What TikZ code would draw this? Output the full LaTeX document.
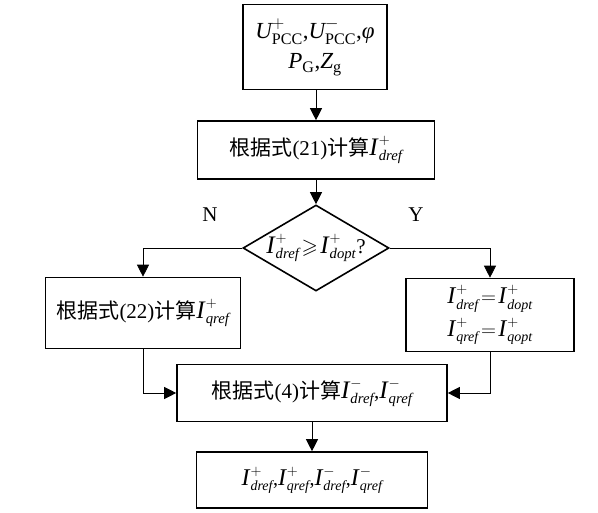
\documentclass[tikz,border=0pt]{standalone}
\usepackage{amsmath}
\usepackage{amssymb}
\usepackage{fontspec}
\setmainfont{Liberation Serif}
\newfontfamily\cjk{Noto Sans CJK SC}
\usetikzlibrary{arrows.meta,shapes.geometric,positioning}

\newcommand{\cur}[2]{\scalebox{1.2}{\textit{I}}^{#1}_{\textit{#2}}}

\begin{document}
\begin{tikzpicture}[
x=1pt, y=-1pt,
>={Triangle[length=12pt,width=12pt]},
box/.style = {draw,line width=1.6pt,inner sep=0pt,align=center,font=\fontsize{21}{25}\selectfont},
check/.style = {draw,diamond,line width=1.6pt,inner sep=0pt,aspect=1.7,minimum width=146,minimum height=86},
flow/.style = {->,line width=0.8pt}
]
\useasboundingbox (0,0) rectangle (598,513);

\node [box,minimum width=144,minimum height=85,font=\fontsize{23}{27}\selectfont] (in) at (315,47)
  {$\textit{U}^{+}_{\textrm{PCC}}$,$\textit{U}^{-}_{\textrm{PCC}}$,\textit{φ}\\[3pt]
   $\textit{P}_{\textrm{G}}$,$\textit{Z}_{\textrm{g}}$};
\node [box,minimum width=237,minimum height=58] (dref) at (316,150)
  {{\cjk 根据式}(21){\cjk 计算}$\cur{+}{dref}$};
\node [check] (chk) at (316,248) {};
\node [font=\fontsize{21}{25}\selectfont] (cond) at (316,248) {$\cur{+}{dref}\!\geqslant\!\cur{+}{dopt}$?};
\node [box,minimum width=195,minimum height=71] (qref) at (143,313)
  {{\cjk 根据式}(22){\cjk 计算}$\cur{+}{qref}$};
\node [box,minimum width=168,minimum height=73,font=\fontsize{20}{24}\selectfont] (opt) at (490,315)
  {$\cur{+}{dref}\!=\!\cur{+}{dopt}$\\[5pt] $\cur{+}{qref}\!=\!\cur{+}{qopt}$};
\node [box,minimum width=270,minimum height=57] (neg) at (312,393)
  {{\cjk 根据式}(4){\cjk 计算}$\cur{-}{dref}$,$\cur{-}{qref}$};
\node [box,minimum width=231,minimum height=56,font=\fontsize{20}{24}\selectfont] (out) at (312,480)
  {$\cur{+}{dref}$,$\cur{+}{qref}$,$\cur{-}{dref}$,$\cur{-}{qref}$};

% labels
\node [font=\fontsize{21}{25}\selectfont] (no) at (210,215) {N};
\node [font=\fontsize{21}{25}\selectfont] (yes) at (416,215) {Y};

% arrows
\draw [flow] (in.south -| dref.north) -- (dref.north);
\draw [flow] (dref.south -| chk.north) -- (chk.north);
\draw [flow] (chk.west) -| (qref.north);
\draw [flow] (chk.east) -| (opt.north);
\draw [flow] (qref.south) |- (neg.west);
\draw [flow] (opt.south) |- (neg.east);
\draw [flow] (neg.south -| out.north) -- (out.north);

\end{tikzpicture}
\end{document}
